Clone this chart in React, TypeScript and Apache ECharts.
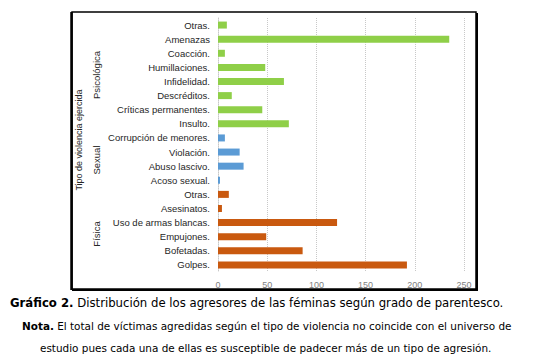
import React, { useEffect, useRef } from "react";
import * as echarts from "echarts";

const categories = [
  "Otras.", "Amenazas", "Coacción.", "Humillaciones.", "Infidelidad.", "Descréditos.",
  "Críticas permanentes.", "Insulto.",
  "Corrupción de menores.", "Violación.", "Abuso lascivo.", "Acoso sexual.",
  "Otras.", "Asesinatos.", "Uso de armas blancas.", "Empujones.", "Bofetadas.", "Golpes.",
];
const values = [9, 235, 7, 48, 67, 14, 45, 72, 7, 22, 26, 2, 11, 4, 121, 49, 86, 192];
const groupOf = [0, 0, 0, 0, 0, 0, 0, 0, 1, 1, 1, 1, 2, 2, 2, 2, 2, 2];
const groupNames = ["Psicológica", "Sexual", "Física"];
const groupColors = ["#8fcf48", "#5b9bd5", "#c9590f"];
const xTicks = [0, 50, 100, 150, 200, 250];

export default function App() {
  const ref = useRef<HTMLDivElement>(null);
  useEffect(() => {
    const chart = echarts.init(ref.current!, null, { renderer: "svg" });
    const font = "Liberation Sans, Arial, sans-serif";
    chart.setOption({
      animation: false,
      backgroundColor: "#ffffff",
      grid: { left: 218, right: 73, top: 18, bottom: 87, containLabel: false },
      xAxis: {
        type: "value",
        min: xTicks[0],
        max: xTicks[xTicks.length - 1],
        interval: 50,
        axisLine: { show: false },
        axisTick: { show: false },
        axisLabel: { color: "#7f7f7f", fontSize: 9, fontFamily: font, margin: 8 },
        splitLine: { show: true, lineStyle: { color: "#c8c8c8", type: "dotted", width: 1 } },
      },
      yAxis: {
        type: "category",
        inverse: true,
        data: categories,
        axisLine: { show: true, lineStyle: { color: "#c8c8c8", type: "dotted" } },
        axisTick: { show: false },
        axisLabel: { color: "#262626", fontSize: 9.5, fontFamily: font, margin: 8 },
      },
      series: [
        {
          type: "bar",
          data: values.map((v, i) => ({ value: v, itemStyle: { color: groupColors[groupOf[i]] } })),
          barWidth: 7,
        },
      ],
      graphic: [
        {
          type: "rect",
          shape: { x: 72, y: 12, width: 404, height: 277 },
          style: { fill: "none", stroke: "#000", lineWidth: 1.5 },
          z: 10,
        },
        {
          type: "line",
          shape: { x1: 477, y1: 13, x2: 477, y2: 290 },
          style: { stroke: "#000", lineWidth: 2 },
          z: 10,
        },
        {
          type: "line",
          shape: { x1: 72, y1: 290, x2: 478, y2: 290 },
          style: { stroke: "#000", lineWidth: 2 },
          z: 10,
        },
        {
          type: "line",
          shape: { x1: 71.5, y1: 12, x2: 71.5, y2: 290 },
          style: { stroke: "#000", lineWidth: 2.5 },
          z: 10,
        },
        {
          type: "text",
          x: 79, y: 140, rotation: Math.PI / 2,
          style: { text: "Tipo de violencia ejercida", fill: "#262626", font: `9px ${font}`, align: "center", verticalAlign: "middle" },
        },
        {
          type: "text",
          x: 96, y: 75, rotation: Math.PI / 2,
          style: { text: groupNames[0], fill: "#262626", font: `9.5px ${font}`, align: "center", verticalAlign: "middle" },
        },
        {
          type: "text",
          x: 96, y: 160, rotation: Math.PI / 2,
          style: { text: groupNames[1], fill: "#262626", font: `9.5px ${font}`, align: "center", verticalAlign: "middle" },
        },
        {
          type: "text",
          x: 96, y: 234, rotation: Math.PI / 2,
          style: { text: groupNames[2], fill: "#262626", font: `9.5px ${font}`, align: "center", verticalAlign: "middle" },
        },
        {
          type: "text",
          x: 10, y: 303,
          style: {
            text: "{b|Gráfico 2.} Distribución de los agresores de las féminas según grado de parentesco.",
            rich: {
              b: { fontWeight: "bold", fontSize: 11.7, fontFamily: "DejaVu Sans", fill: "#000" },
            },
            font: "11.7px DejaVu Sans",
            fill: "#000",
            align: "left",
            verticalAlign: "middle",
          },
        },
        {
          type: "text",
          x: 22, y: 326,
          style: {
            text: "{b|Nota.} El total de víctimas agredidas según el tipo de violencia no coincide con el universo de",
            rich: {
              b: { fontWeight: "bold", fontSize: 10.45, fontFamily: "DejaVu Sans", fill: "#000" },
            },
            font: "10.45px DejaVu Sans",
            fill: "#000",
            align: "left",
            verticalAlign: "middle",
          },
        },
        {
          type: "text",
          x: 40, y: 348,
          style: {
            text: "estudio pues cada una de ellas es susceptible de padecer más de un tipo de agresión.",
            font: "10.45px DejaVu Sans",
            fill: "#000",
            align: "left",
            verticalAlign: "middle",
          },
        },
      ],
    });
    return () => chart.dispose();
  }, []);
  return (
    <div style={{ position: "fixed", left: 0, top: 0, width: 537, height: 359, background: "#fff" }}>
      <div ref={ref} style={{ width: 537, height: 359 }} />
    </div>
  );
}
